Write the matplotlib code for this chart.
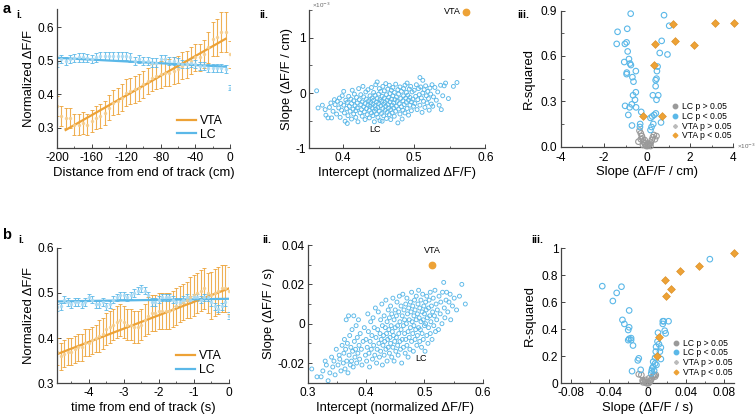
import numpy as np
import matplotlib.pyplot as plt
from matplotlib.lines import Line2D
from matplotlib.ticker import MultipleLocator

plt.rcParams['font.family'] = ['Liberation Sans', 'DejaVu Sans']
plt.rcParams['font.size'] = 8
plt.rcParams['axes.unicode_minus'] = False

ORANGE = '#EDA236'
BLUE = '#5BB8E8'
GRAY = '#9A9A9A'
AXC = '#444444'
LABEL_FS = 9.4
TICK_FS = 8.6

# ---- panel a.i : signal vs distance ----
dist_cm = np.arange(-200, 1, 5)
vta_dist_mean = [0.365, 0.335, 0.330, 0.330, 0.310, 0.310, 0.315, 0.310, 0.320, 0.330,
                 0.335, 0.345, 0.360, 0.375, 0.380, 0.390, 0.405, 0.410, 0.415, 0.420,
                 0.430, 0.440, 0.450, 0.455, 0.460, 0.465, 0.465, 0.470, 0.475, 0.485,
                 0.490, 0.500, 0.510, 0.510, 0.520, 0.540, 0.565, 0.570, 0.585, 0.585, 0.520]
vta_dist_err = [0.030, 0.030, 0.030, 0.030, 0.030, 0.030, 0.032, 0.032, 0.033, 0.034,
                0.035, 0.036, 0.037, 0.038, 0.040, 0.040, 0.040, 0.040, 0.040, 0.040,
                0.040, 0.040, 0.040, 0.040, 0.040, 0.040, 0.040, 0.040, 0.040, 0.040,
                0.040, 0.040, 0.040, 0.040, 0.042, 0.045, 0.052, 0.055, 0.060, 0.060, 0.040]
lc_dist_mean = [0.495, 0.505, 0.500, 0.505, 0.508, 0.510, 0.510, 0.508, 0.505, 0.510,
                0.515, 0.515, 0.515, 0.515, 0.515, 0.515, 0.515, 0.510, 0.500, 0.505,
                0.500, 0.500, 0.495, 0.495, 0.505, 0.505, 0.500, 0.500, 0.495, 0.490,
                0.490, 0.495, 0.490, 0.485, 0.485, 0.480, 0.480, 0.480, 0.480, 0.475, 0.420]
lc_dist_err = [0.012] * 40 + [0.008]
# fits (intercept, slope per cm)
vta_dist_fit = (0.573, 1.47e-3)
lc_dist_fit = (0.482, -1.35e-4)

# ---- panel b.i : signal vs time ----
time_s = np.arange(-49, 1) / 10
vta_time_mean = [0.370, 0.360, 0.365, 0.370, 0.370, 0.375, 0.380, 0.380, 0.390, 0.390,
                 0.395, 0.400, 0.405, 0.410, 0.420, 0.425, 0.430, 0.435, 0.440, 0.435,
                 0.430, 0.430, 0.425, 0.425, 0.430, 0.440, 0.450, 0.455, 0.455, 0.460,
                 0.460, 0.460, 0.460, 0.465, 0.470, 0.475, 0.480, 0.485, 0.490, 0.495,
                 0.500, 0.505, 0.510, 0.500, 0.495, 0.500, 0.505, 0.510, 0.510, 0.505]
vta_time_err = [0.030] * 12 + [0.035] * 14 + [0.040] * 12 + [0.045] * 6 + [0.052] * 6
lc_time_mean = [0.468, 0.470, 0.485, 0.480, 0.475, 0.480, 0.480, 0.475, 0.480, 0.490,
                0.485, 0.475, 0.475, 0.480, 0.470, 0.475, 0.485, 0.490, 0.495, 0.495,
                0.490, 0.495, 0.500, 0.505, 0.510, 0.505, 0.495, 0.480, 0.480, 0.485,
                0.490, 0.490, 0.490, 0.485, 0.480, 0.480, 0.485, 0.490, 0.485, 0.490,
                0.490, 0.485, 0.490, 0.490, 0.480, 0.470, 0.465, 0.470, 0.480, 0.450]
lc_time_err = [0.008] * 50
vta_time_fit = (0.510, 0.0297)
lc_time_fit = (0.487, 0.0012)

# ---- panel a.ii : LC intercept vs slope (slope in 1e-3 dF/F per cm) ----
lc_a_pts = [
    (0.363, 0.04), (0.365, -0.27), (0.371, -0.22), (0.375, -0.30), (0.376, -0.40), (0.379, -0.45),
    (0.381, -0.26), (0.383, -0.18), (0.384, -0.45), (0.386, -0.33), (0.388, -0.12), (0.389, -0.21),
    (0.391, -0.38), (0.392, -0.15), (0.394, -0.27), (0.395, -0.09), (0.396, -0.44), (0.397, -0.19),
    (0.398, -0.31), (0.399, -0.05),
    (0.401, 0.03), (0.401, -0.22), (0.402, -0.36), (0.403, -0.51), (0.404, -0.13), (0.405, -0.28),
    (0.406, -0.55), (0.406, -0.17), (0.407, -0.41), (0.408, -0.06), (0.409, -0.24), (0.410, -0.33),
    (0.411, -0.11), (0.412, -0.47), (0.412, -0.19), (0.413, 0.05), (0.414, -0.29), (0.415, -0.38),
    (0.415, -0.14), (0.416, -0.02), (0.417, -0.23), (0.418, -0.44), (0.418, -0.32), (0.419, -0.08),
    (0.420, -0.18), (0.420, -0.27), (0.421, -0.52), (0.422, 0.08), (0.423, -0.12), (0.424, -0.36),
    (0.425, -0.21), (0.425, -0.03), (0.426, -0.30), (0.427, -0.42), (0.427, -0.16), (0.428, 0.12),
    (0.429, -0.25), (0.429, -0.07), (0.430, -0.34), (0.431, -0.48), (0.431, -0.19), (0.432, 0.02),
    (0.433, -0.28), (0.433, -0.11), (0.434, -0.39), (0.435, -0.22), (0.435, 0.06), (0.436, -0.14),
    (0.437, -0.31), (0.437, -0.45), (0.438, -0.05), (0.438, -0.24), (0.439, -0.17), (0.440, -0.36),
    (0.440, 0.10), (0.441, -0.09), (0.441, -0.27), (0.442, -0.41), (0.442, -0.20), (0.443, 0.01),
    (0.443, -0.13), (0.444, -0.33), (0.444, -0.52), (0.445, -0.23), (0.445, -0.04), (0.446, 0.15),
    (0.446, -0.29), (0.447, -0.16), (0.447, -0.38), (0.448, 0.20),
    (0.448, -0.10), (0.449, -0.26), (0.449, -0.44), (0.450, -0.02), (0.450, -0.19), (0.451, -0.33),
    (0.451, 0.08), (0.452, -0.12), (0.452, -0.50), (0.453, -0.23), (0.453, 0.03), (0.454, -0.37),
    (0.454, -0.15), (0.455, -0.51), (0.455, -0.06), (0.456, -0.28), (0.456, 0.12), (0.457, -0.20),
    (0.457, -0.41), (0.458, -0.09), (0.458, 0.04), (0.459, -0.31), (0.459, -0.17), (0.460, -0.24),
    (0.460, 0.17), (0.461, -0.46), (0.461, -0.03), (0.462, -0.13), (0.462, -0.35), (0.463, 0.07),
    (0.463, -0.21), (0.464, -0.27), (0.464, -0.08), (0.465, -0.39), (0.465, 0.14), (0.466, -0.16),
    (0.466, -0.01), (0.467, -0.30), (0.467, -0.48), (0.468, -0.11), (0.468, 0.05), (0.469, -0.22),
    (0.469, -0.36), (0.470, -0.05), (0.470, 0.10),
    (0.471, -0.18), (0.471, -0.27), (0.472, -0.42), (0.472, 0.01), (0.473, -0.12), (0.474, -0.33),
    (0.474, 0.16), (0.475, -0.07), (0.475, -0.24), (0.476, -0.15), (0.477, -0.54), (0.477, 0.06),
    (0.478, -0.29), (0.478, -0.02), (0.479, -0.19), (0.480, -0.38), (0.480, 0.11), (0.481, -0.10),
    (0.482, -0.25), (0.482, 0.03), (0.483, -0.47), (0.484, -0.14), (0.484, -0.31), (0.485, 0.08),
    (0.485, -0.05), (0.486, -0.21), (0.487, 0.14), (0.487, -0.36), (0.488, -0.09), (0.489, -0.17),
    (0.489, 0.01), (0.490, -0.28), (0.490, 0.18), (0.491, -0.04), (0.492, -0.13), (0.492, -0.40),
    (0.493, 0.07), (0.494, -0.22), (0.494, -0.08), (0.495, 0.12), (0.496, -0.16), (0.496, -0.32),
    (0.497, 0.02), (0.498, -0.11), (0.499, -0.24),
    (0.500, 0.05), (0.501, -0.19), (0.502, -0.06), (0.503, 0.15), (0.504, -0.30), (0.505, -0.12),
    (0.506, 0.08), (0.507, -0.03), (0.508, 0.28), (0.508, -0.22), (0.509, 0.11), (0.510, -0.09),
    (0.511, -0.35), (0.512, 0.23), (0.512, 0.00), (0.513, -0.15), (0.514, 0.06), (0.515, -0.26),
    (0.516, 0.13), (0.517, -0.05), (0.518, -0.18), (0.519, 0.03), (0.520, -0.10), (0.521, -0.31),
    (0.522, 0.09), (0.523, -0.02), (0.524, -0.20), (0.525, 0.15), (0.526, -0.24), (0.527, -0.07),
    (0.529, 0.10), (0.531, -0.13), (0.533, 0.02), (0.535, -0.22), (0.537, 0.14), (0.538, -0.30),
    (0.540, -0.05), (0.542, 0.13), (0.544, 0.18), (0.548, -0.10), (0.555, 0.12), (0.560, 0.19),
]
vta_a_point = (0.573, 1.47)

# ---- panel b.ii : LC intercept vs slope (dF/F per s) ----
lc_b_pts = [
    (0.307, -0.023), (0.316, -0.027), (0.323, -0.027), (0.326, -0.024), (0.330, -0.019), (0.332, -0.021),
    (0.335, -0.029), (0.338, -0.025), (0.341, -0.017), (0.343, -0.022), (0.345, -0.019), (0.347, -0.026),
    (0.349, -0.013), (0.352, -0.021), (0.354, -0.016), (0.355, -0.018), (0.357, -0.024), (0.359, -0.011),
    (0.361, -0.020), (0.362, -0.015), (0.363, -0.008), (0.364, -0.023), (0.365, -0.013), (0.366, 0.002),
    (0.367, -0.019), (0.368, -0.010), (0.369, -0.025), (0.370, 0.004), (0.371, -0.016), (0.372, -0.006),
    (0.373, -0.021), (0.374, -0.012), (0.375, -0.019), (0.376, -0.003), (0.377, -0.014), (0.378, -0.022),
    (0.379, 0.004), (0.380, -0.009), (0.381, -0.017), (0.382, -0.013), (0.383, -0.001), (0.384, -0.020),
    (0.385, -0.007), (0.386, -0.015), (0.387, 0.002), (0.388, -0.011), (0.389, -0.018), (0.390, -0.005),
    (0.392, -0.013), (0.393, -0.021), (0.395, -0.009), (0.397, -0.002), (0.399, -0.016),
    (0.400, -0.008), (0.401, -0.019), (0.402, -0.012), (0.403, 0.005), (0.404, -0.004), (0.405, -0.015),
    (0.406, -0.022), (0.407, -0.009), (0.408, 0.001), (0.409, -0.013), (0.410, -0.006), (0.411, -0.018),
    (0.412, 0.003), (0.413, -0.011), (0.414, -0.002), (0.415, -0.016), (0.416, 0.008), (0.417, -0.007),
    (0.418, -0.020), (0.419, -0.013), (0.420, -0.003), (0.421, 0.006), (0.422, -0.010), (0.423, -0.017),
    (0.424, -0.005), (0.425, 0.002), (0.425, -0.014), (0.426, -0.008), (0.427, 0.010), (0.428, -0.021),
    (0.428, -0.001), (0.429, -0.011), (0.430, -0.006), (0.431, 0.004), (0.431, -0.016), (0.432, -0.009),
    (0.433, -0.002), (0.434, 0.012), (0.434, -0.013), (0.435, -0.005), (0.436, -0.019), (0.436, 0.001),
    (0.437, -0.008), (0.438, 0.007), (0.438, -0.012), (0.439, -0.003), (0.440, -0.015), (0.440, 0.003),
    (0.441, -0.007), (0.442, 0.009), (0.442, -0.010), (0.443, -0.001), (0.444, -0.017), (0.444, 0.005),
    (0.445, -0.004),
    (0.446, -0.012), (0.446, 0.013), (0.447, -0.006), (0.448, 0.002), (0.448, -0.019), (0.449, -0.009),
    (0.450, 0.007), (0.450, -0.002), (0.451, -0.014), (0.452, 0.004), (0.452, -0.007), (0.453, 0.011),
    (0.454, -0.011), (0.454, -0.001), (0.455, -0.016), (0.456, 0.006), (0.456, -0.005), (0.457, 0.014),
    (0.458, -0.009), (0.458, 0.001), (0.459, -0.013), (0.460, 0.009), (0.460, -0.003), (0.461, -0.020),
    (0.462, 0.004), (0.462, -0.008), (0.463, 0.015), (0.464, -0.001), (0.464, -0.012), (0.465, 0.007),
    (0.466, -0.005), (0.466, 0.002), (0.467, -0.015), (0.468, 0.010), (0.468, -0.008), (0.469, 0.000),
    (0.470, -0.011), (0.470, 0.013), (0.471, 0.005), (0.472, -0.004), (0.472, -0.017), (0.473, 0.008),
    (0.474, -0.007), (0.474, 0.002), (0.475, -0.013), (0.476, 0.011), (0.476, -0.002), (0.477, 0.006),
    (0.478, -0.009), (0.478, 0.016), (0.479, 0.001), (0.480, -0.005), (0.480, 0.009), (0.481, -0.014),
    (0.482, 0.004), (0.482, -0.001), (0.483, 0.012), (0.484, -0.008), (0.484, 0.007), (0.485, -0.003),
    (0.486, 0.002), (0.486, 0.014), (0.487, -0.011), (0.488, 0.005), (0.488, -0.006), (0.489, 0.010),
    (0.490, -0.002), (0.490, 0.017),
    (0.491, 0.003), (0.492, -0.009), (0.492, 0.008), (0.493, -0.003), (0.494, 0.012), (0.494, 0.001),
    (0.495, -0.012), (0.496, 0.006), (0.496, -0.005), (0.497, 0.015), (0.498, 0.002), (0.498, -0.008),
    (0.499, 0.009), (0.500, -0.001), (0.500, 0.005), (0.501, -0.014), (0.502, 0.011), (0.502, 0.000),
    (0.503, 0.007), (0.504, -0.006), (0.504, 0.014), (0.505, 0.003), (0.506, -0.010), (0.507, 0.008),
    (0.507, -0.002), (0.508, 0.012), (0.509, 0.004), (0.510, -0.005), (0.510, 0.016), (0.511, 0.001),
    (0.512, 0.009), (0.513, -0.008), (0.514, 0.006), (0.515, 0.013), (0.516, -0.001), (0.517, 0.004),
    (0.518, 0.017), (0.519, -0.004), (0.520, 0.010), (0.521, 0.002), (0.522, 0.007), (0.524, -0.003),
    (0.525, 0.014), (0.527, 0.005), (0.528, 0.011),
    (0.530, 0.000), (0.531, 0.016), (0.533, 0.021), (0.534, 0.008), (0.535, 0.003), (0.537, 0.012),
    (0.538, 0.016), (0.540, 0.006), (0.542, 0.011), (0.544, 0.015), (0.545, 0.002), (0.548, 0.009),
    (0.551, 0.013), (0.555, 0.007), (0.560, 0.014), (0.564, 0.020), (0.570, 0.010),
]
vta_b_point = (0.513, 0.030)

# ---- panel a.iii : slope (1e-3 per cm) vs R-squared ----
lc_sig_a = [(-0.76, 0.88), (0.79, 0.87), (-1.37, 0.76), (-0.92, 0.78), (-1.41, 0.68), (-0.95, 0.69),
            (-1.03, 0.68), (1.03, 0.80), (0.68, 0.70), (0.59, 0.62), (0.95, 0.61), (-0.90, 0.63),
            (-1.06, 0.56), (-0.84, 0.58), (-0.79, 0.55), (-0.75, 0.54), (-0.52, 0.50), (-0.94, 0.49),
            (-0.95, 0.48), (-0.68, 0.46), (-0.63, 0.43), (0.49, 0.53), (0.46, 0.50), (0.40, 0.44),
            (0.44, 0.45), (0.40, 0.40), (-0.52, 0.36), (-0.65, 0.34), (0.27, 0.34), (0.52, 0.34),
            (0.44, 0.31), (-0.56, 0.31), (-1.02, 0.27), (-0.71, 0.28), (-0.81, 0.26), (-0.51, 0.26),
            (-0.87, 0.21), (-0.27, 0.23), (0.41, 0.22), (0.33, 0.21), (0.24, 0.20), (0.16, 0.19),
            (-0.70, 0.14), (-0.32, 0.15), (-0.33, 0.13), (0.29, 0.15), (0.65, 0.16), (0.21, 0.13),
            (0.16, 0.11)]
lc_ns_a = [(-0.35, 0.106), (-0.29, 0.088), (-0.24, 0.070), (-0.21, 0.053), (-0.16, 0.033),
           (-0.11, 0.022), (-0.08, 0.011), (-0.03, 0.004), (0.03, 0.004), (0.08, 0.009),
           (0.13, 0.018), (0.17, 0.026), (0.22, 0.044), (0.27, 0.062), (0.32, 0.077),
           (0.44, 0.070), (0.37, 0.049), (-0.29, 0.049), (-0.40, 0.033), (-0.19, 0.011),
           (0.16, 0.004), (0.02, 0.018), (-0.11, 0.044)]
vta_sig_a = [(-0.19, 0.20), (0.71, 0.20), (0.33, 0.54), (0.37, 0.68), (1.22, 0.81),
             (1.30, 0.70), (2.19, 0.67), (3.17, 0.82), (4.05, 0.82)]

# ---- panel b.iii : slope (per s) vs R-squared ----
lc_sig_b = [(-0.047, 0.72), (-0.027, 0.716), (-0.032, 0.67), (-0.036, 0.61), (-0.019, 0.54),
            (-0.026, 0.47), (-0.024, 0.44), (-0.019, 0.415), (-0.020, 0.395), (-0.019, 0.33),
            (-0.017, 0.32), (-0.017, 0.335), (-0.015, 0.28), (-0.020, 0.32), (-0.009, 0.185),
            (-0.010, 0.17), (-0.016, 0.09), (-0.007, 0.10), (0.065, 0.92), (0.016, 0.46),
            (0.017, 0.46), (0.022, 0.46), (0.016, 0.44), (0.018, 0.39), (0.019, 0.37),
            (0.011, 0.375), (0.0105, 0.31), (0.012, 0.29), (0.009, 0.27), (0.014, 0.265),
            (0.013, 0.235), (0.0087, 0.235), (0.014, 0.18), (0.008, 0.19), (0.006, 0.16),
            (0.008, 0.146), (0.005, 0.11), (0.007, 0.094), (0.004, 0.074), (0.0094, 0.136),
            (0.0045, 0.094), (0.006, 0.123)]
lc_ns_b = [(-0.009, 0.067), (-0.0063, 0.062), (-0.005, 0.020), (-0.004, 0.017), (-0.0024, 0.007),
           (-0.001, 0.002), (0.0003, 0.0), (0.0014, 0.002), (0.0024, 0.012), (0.0035, 0.020),
           (0.0045, 0.037), (0.0056, 0.050), (0.007, 0.062), (0.0087, 0.062), (0.008, 0.050),
           (-0.0045, 0.007), (-0.002, 0.025), (0.0017, 0.037)]
vta_sig_b = [(0.0105, 0.205), (0.012, 0.34), (0.019, 0.65), (0.0185, 0.765), (0.0245, 0.70),
             (0.034, 0.83), (0.054, 0.87), (0.0905, 0.963)]


def style_axes(ax):
    for side in ['top', 'right']:
        ax.spines[side].set_visible(False)
    for side in ['left', 'bottom']:
        ax.spines[side].set_color(AXC)
        ax.spines[side].set_linewidth(0.9)
    ax.tick_params(direction='in', length=3, width=0.7, color=AXC, labelsize=TICK_FS, pad=2)
    ax.tick_params(axis='x', pad=3)
    ax.tick_params(which='minor', direction='in', length=1.8, width=0.6, color=AXC)


def trace_panel(ax, x, vta_m, vta_e, lc_m, lc_e, vta_fit, lc_fit, vta_rng, lc_rng):
    ax.errorbar(x, vta_m, yerr=vta_e, fmt='o', ms=1.5, color=ORANGE, alpha=0.85,
                mfc='#F6CE8E', mec='#F6CE8E', elinewidth=0.8, capsize=1.4, capthick=0.7)
    ax.errorbar(x, lc_m, yerr=lc_e, fmt='o', ms=1.5, color=BLUE, alpha=0.85,
                mfc='#A9DAF3', mec='#A9DAF3', elinewidth=0.8, capsize=1.4, capthick=0.7)
    xv = np.array(vta_rng)
    xl = np.array(lc_rng)
    ax.plot(xv, vta_fit[0] + vta_fit[1] * xv, color=ORANGE, lw=1.6)
    ax.plot(xl, lc_fit[0] + lc_fit[1] * xl, color=BLUE, lw=1.6)
    handles = [Line2D([], [], color=ORANGE, lw=1.6), Line2D([], [], color=BLUE, lw=1.6)]
    ax.legend(handles, ['VTA', 'LC'], loc='lower right', frameon=False, fontsize=8.8,
              handlelength=1.6, handletextpad=0.3, labelspacing=0.15, borderaxespad=0.2)


def rsq_panel(ax, lc_ns, lc_sig, vta_sig):
    ns = np.array(lc_ns)
    sg = np.array(lc_sig)
    vt = np.array(vta_sig)
    ax.scatter(ns[:, 0], ns[:, 1], s=16, facecolors='none', edgecolors=GRAY, linewidths=0.8,
               clip_on=False, zorder=3)
    ax.scatter(sg[:, 0], sg[:, 1], s=16, facecolors='none', edgecolors=BLUE, linewidths=0.8,
               clip_on=False, zorder=3)
    ax.scatter(vt[:, 0], vt[:, 1], s=16, marker='D', color=ORANGE, edgecolors='#D88B1F',
               linewidths=0.4, clip_on=False, zorder=4)
    handles = [Line2D([], [], ls='', marker='o', ms=3.2, color=GRAY),
               Line2D([], [], ls='', marker='o', ms=3.2, color=BLUE),
               Line2D([], [], ls='', marker='D', ms=2.0, color='#BBBBBB'),
               Line2D([], [], ls='', marker='D', ms=2.4, color=ORANGE)]
    ax.legend(handles, ['LC p > 0.05', 'LC p < 0.05', 'VTA p > 0.05', 'VTA p < 0.05'],
              loc='lower right', frameon=False, fontsize=6.2, handlelength=0.8,
              handletextpad=0.4, labelspacing=0.1, borderaxespad=0.0,
              bbox_to_anchor=(1.01, 0.02))
    ax.set_ylabel('R-squared', fontsize=LABEL_FS)


fig = plt.figure(figsize=(7.55, 4.19), dpi=100)

# a.i
ax = fig.add_axes([0.0755, 0.6468, 0.229, 0.332])
style_axes(ax)
trace_panel(ax, dist_cm, vta_dist_mean, vta_dist_err, lc_dist_mean, lc_dist_err,
            vta_dist_fit, lc_dist_fit, [-190, -5], [-200, -5])
ax.set_xlim(-200, 0)
ax.set_ylim(0.24, 0.655)
ax.set_xticks([-200, -160, -120, -80, -40, 0])
ax.xaxis.set_minor_locator(MultipleLocator(20))
ax.set_yticks([0.3, 0.4, 0.5, 0.6])
ax.set_xlabel('Distance from end of track (cm)', fontsize=LABEL_FS, labelpad=2)
ax.set_ylabel('Normalized \u0394F/F', fontsize=LABEL_FS, labelpad=2)

# a.ii
ax = fig.add_axes([0.409, 0.646, 0.234, 0.330])
style_axes(ax)
pts = np.array(lc_a_pts)
ax.scatter(pts[:, 0], pts[:, 1], s=8, facecolors='none', edgecolors=BLUE, linewidths=0.65)
ax.plot(*vta_a_point, 'o', color=ORANGE, ms=4.6, clip_on=False)
ax.text(vta_a_point[0] - 0.008, vta_a_point[1], 'VTA', fontsize=6.5, ha='right', va='center')
ax.text(0.445, -0.66, 'LC', fontsize=6.5, ha='center', va='center')
ax.set_xlim(0.352, 0.6)
ax.set_ylim(-1, 1.5)
ax.set_xticks([0.4, 0.5, 0.6])
ax.xaxis.set_minor_locator(MultipleLocator(0.05))
ax.set_yticks([-1, 0, 1])
ax.yaxis.set_minor_locator(MultipleLocator(0.5))
ax.set_xlabel('Intercept (normalized \u0394F/F)', fontsize=LABEL_FS, labelpad=2)
ax.set_ylabel('Slope (\u0394F/F / cm)', fontsize=LABEL_FS, labelpad=2)
ax.text(0.02, 1.0, '\u00d710$^{-3}$', transform=ax.transAxes, fontsize=4.5, color='#666666',
        ha='left', va='bottom')

# a.iii
ax = fig.add_axes([0.743, 0.650, 0.228, 0.3246])
style_axes(ax)
rsq_panel(ax, lc_ns_a, lc_sig_a, vta_sig_a)
ax.set_xlim(-4, 4)
ax.set_ylim(0, 0.9)
ax.set_xticks([-4, -2, 0, 2, 4])
ax.xaxis.set_minor_locator(MultipleLocator(1))
ax.set_yticks([0, 0.3, 0.6, 0.9])
ax.yaxis.set_minor_locator(MultipleLocator(0.15))
ax.tick_params(axis='y', pad=3)
ax.tick_params(axis='x', pad=4)
ax.set_xlabel('Slope (\u0394F/F / cm)', fontsize=LABEL_FS, labelpad=1)
ax.text(1.02, 0.0, '\u00d710$^{-3}$', transform=ax.transAxes, fontsize=4.5, color='#666666',
        ha='left', va='center')

# b.i
ax = fig.add_axes([0.0755, 0.0852, 0.2278, 0.3236])
style_axes(ax)
trace_panel(ax, time_s, vta_time_mean, vta_time_err, lc_time_mean, lc_time_err,
            vta_time_fit, lc_time_fit, [-4.87, 0], [-4.87, 0])
ax.set_xlim(-4.9, 0)
ax.set_ylim(0.3, 0.6)
ax.set_xticks([-4, -3, -2, -1, 0])
ax.xaxis.set_minor_locator(MultipleLocator(0.5))
ax.set_yticks([0.3, 0.4, 0.5, 0.6])
ax.set_xlabel('time from end of track (s)', fontsize=LABEL_FS, labelpad=2)
ax.set_ylabel('Normalized \u0394F/F', fontsize=LABEL_FS, labelpad=2)

# b.ii
ax = fig.add_axes([0.4075, 0.0866, 0.232, 0.3286])
style_axes(ax)
pts = np.array(lc_b_pts)
ax.scatter(pts[:, 0], pts[:, 1], s=8, facecolors='none', edgecolors=BLUE, linewidths=0.65,
           clip_on=False)
ax.plot(*vta_b_point, 'o', color=ORANGE, ms=4.6)
ax.text(vta_b_point[0], vta_b_point[1] + 0.005, 'VTA', fontsize=6.5, ha='center', va='bottom')
ax.text(0.494, -0.0177, 'LC', fontsize=6.5, ha='center', va='center')
ax.set_xlim(0.3, 0.6)
ax.set_ylim(-0.03, 0.04)
ax.set_xticks([0.3, 0.4, 0.5, 0.6])
ax.xaxis.set_minor_locator(MultipleLocator(0.05))
ax.set_yticks([-0.02, 0, 0.02, 0.04])
ax.set_yticklabels(['-0.02', '0', '0.02', '0.04'])
ax.yaxis.set_minor_locator(MultipleLocator(0.01))
ax.set_xlabel('Intercept (normalized \u0394F/F)', fontsize=LABEL_FS, labelpad=2)
ax.set_ylabel('Slope (\u0394F/F / s)', fontsize=LABEL_FS, labelpad=2)

# b.iii
ax = fig.add_axes([0.743, 0.0852, 0.229, 0.322])
style_axes(ax)
rsq_panel(ax, lc_ns_b, lc_sig_b, vta_sig_b)
ax.set_xlim(-0.09, 0.09)
ax.set_ylim(0, 1)
ax.set_xticks([-0.08, -0.04, 0, 0.04, 0.08])
ax.set_xticklabels(['-0.08', '-0.04', '0', '0.04', '0.08'])
ax.xaxis.set_minor_locator(MultipleLocator(0.02))
ax.set_yticks([0, 0.2, 0.4, 0.6, 0.8, 1])
ax.set_yticklabels(['0', '0.2', '0.4', '0.6', '0.8', '1'])
ax.set_xlabel('Slope (\u0394F/F / s)', fontsize=LABEL_FS, labelpad=2)

# panel labels
fig.text(0.003, 0.995, 'a', fontsize=10.5, fontweight='bold', va='top')
fig.text(0.022, 0.975, 'i.', fontsize=7.5, fontweight='bold', va='top')
fig.text(0.343, 0.975, 'ii.', fontsize=7.5, fontweight='bold', va='top')
fig.text(0.685, 0.975, 'iii.', fontsize=7.5, fontweight='bold', va='top')
fig.text(0.003, 0.455, 'b', fontsize=10.5, fontweight='bold', va='top')
fig.text(0.024, 0.440, 'i.', fontsize=7.5, fontweight='bold', va='top')
fig.text(0.348, 0.440, 'ii.', fontsize=7.5, fontweight='bold', va='top')
fig.text(0.703, 0.440, 'iii.', fontsize=7.5, fontweight='bold', va='top')

fig.savefig('out.png', dpi=100)
